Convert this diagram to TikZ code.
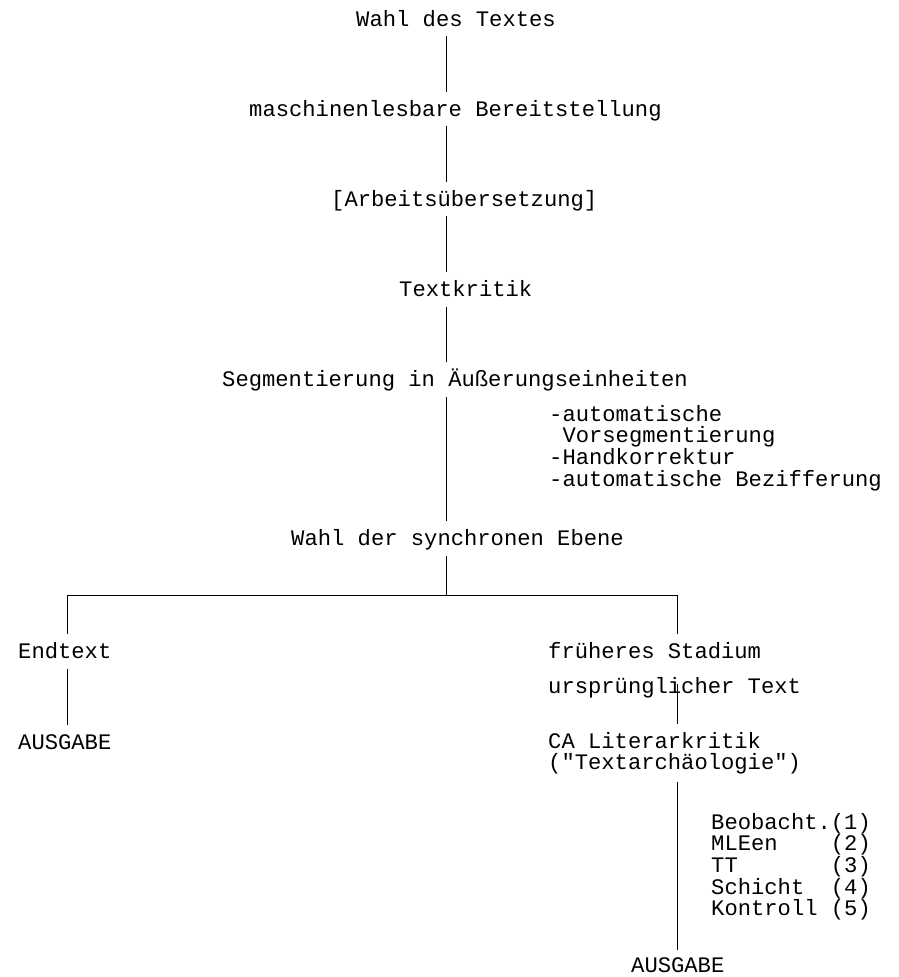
\documentclass[tikz,border=0pt]{standalone}
\usepackage{fontspec}
\newfontfamily\mono{Liberation Mono}[Ligatures=TeXOff]
\usetikzlibrary{calc}
\begin{document}
\begin{tikzpicture}[x=1pt,y=-1pt,
  lbl/.style={anchor=base west, inner sep=0pt,
    font={\mono\fontsize{22.17pt}{21.7pt}\selectfont\lineskiplimit=-50pt}},
  conn/.style={line width=0.9pt, line cap=rect}]
\useasboundingbox (0,0) rectangle (898,977);

% main column
\coordinate (spine) at (446,0);
\node[lbl] (wahl)  at (356,26)  {Wahl des Textes};
\node[lbl] (masch) at (249,116) {maschinenlesbare Bereitstellung};
\node[lbl] (arb)   at (331,206) {[Arbeitsübersetzung]};
\node[lbl] (krit)  at (399,296) {Textkritik};
\node[lbl] (segm)  at (222,386) {Segmentierung in Äußerungseinheiten};
\node[lbl] (segl)  at (549,421) {\vtop{%
  \hbox{-automatische}
  \hbox{\hphantom{-}Vorsegmentierung}
  \hbox{-Handkorrektur}
  \hbox{-automatische Bezifferung}}};
\node[lbl] (ebene) at (291,545) {Wahl der synchronen Ebene};

% left branch
\node[lbl] (endt)  at (18,658)  {Endtext};
\node[lbl] (ausl)  at (18,749)  {AUSGABE};

% right branch
\node[lbl] (frueh) at (548,658) {früheres Stadium};
\node[lbl] (ursp)  at (548,693) {ursprünglicher Text};
\node[lbl] (ca)    at (548,748) {\vtop{%
  \hbox{CA Literarkritik}
  \hbox{("Textarchäologie")}}};
\node[lbl] (schr)  at (711,829) {\vtop{%
  \hbox{Beobacht.(1)}
  \hbox{MLEen\hphantom{xxxx}(2)}
  \hbox{TT\hphantom{xxxxxxx}(3)}
  \hbox{Schicht\hphantom{xx}(4)}
  \hbox{Kontroll\hphantom{x}(5)}}};
\node[lbl] (ausr)  at (631,972) {AUSGABE};

\coordinate (jn) at (446,595);
\coordinate (lb) at (67,595);
\coordinate (rb) at (677,595);

% connectors of the main column
\draw[conn] ($(wahl.base -| spine)+(0,10)$)  -- ($(masch.base -| spine)+(0,-24)$);
\draw[conn] ($(masch.base -| spine)+(0,10)$) -- ($(arb.base -| spine)+(0,-24)$);
\draw[conn] ($(arb.base -| spine)+(0,10)$)   -- ($(krit.base -| spine)+(0,-24)$);
\draw[conn] ($(krit.base -| spine)+(0,11)$)  -- ($(segm.base -| spine)+(0,-24)$);
\draw[conn] ($(segm.base -| spine)+(0,11)$)  -- ($(ebene.base -| spine)+(0,-24)$);
\draw[conn] ($(ebene.base -| spine)+(0,11)$) -- (jn);

% branching bar
\draw[conn] ($(endt.base -| lb)+(0,-24)$) -- (lb) -- (rb) -- ($(frueh.base -| rb)+(0,-24)$);

% left branch
\draw[conn] ($(endt.base -| lb)+(0,11)$) -- ($(ausl.base -| lb)+(0,-24)$);

% right branch
\draw[conn] ($(ursp.base -| rb)+(0,-9)$) -- ($(ca.base -| rb)+(0,-24)$);
\draw[conn] ($(ca.base -| rb)+(0,34)$)   -- ($(ausr.base -| rb)+(0,-22)$);
\end{tikzpicture}
\end{document}
